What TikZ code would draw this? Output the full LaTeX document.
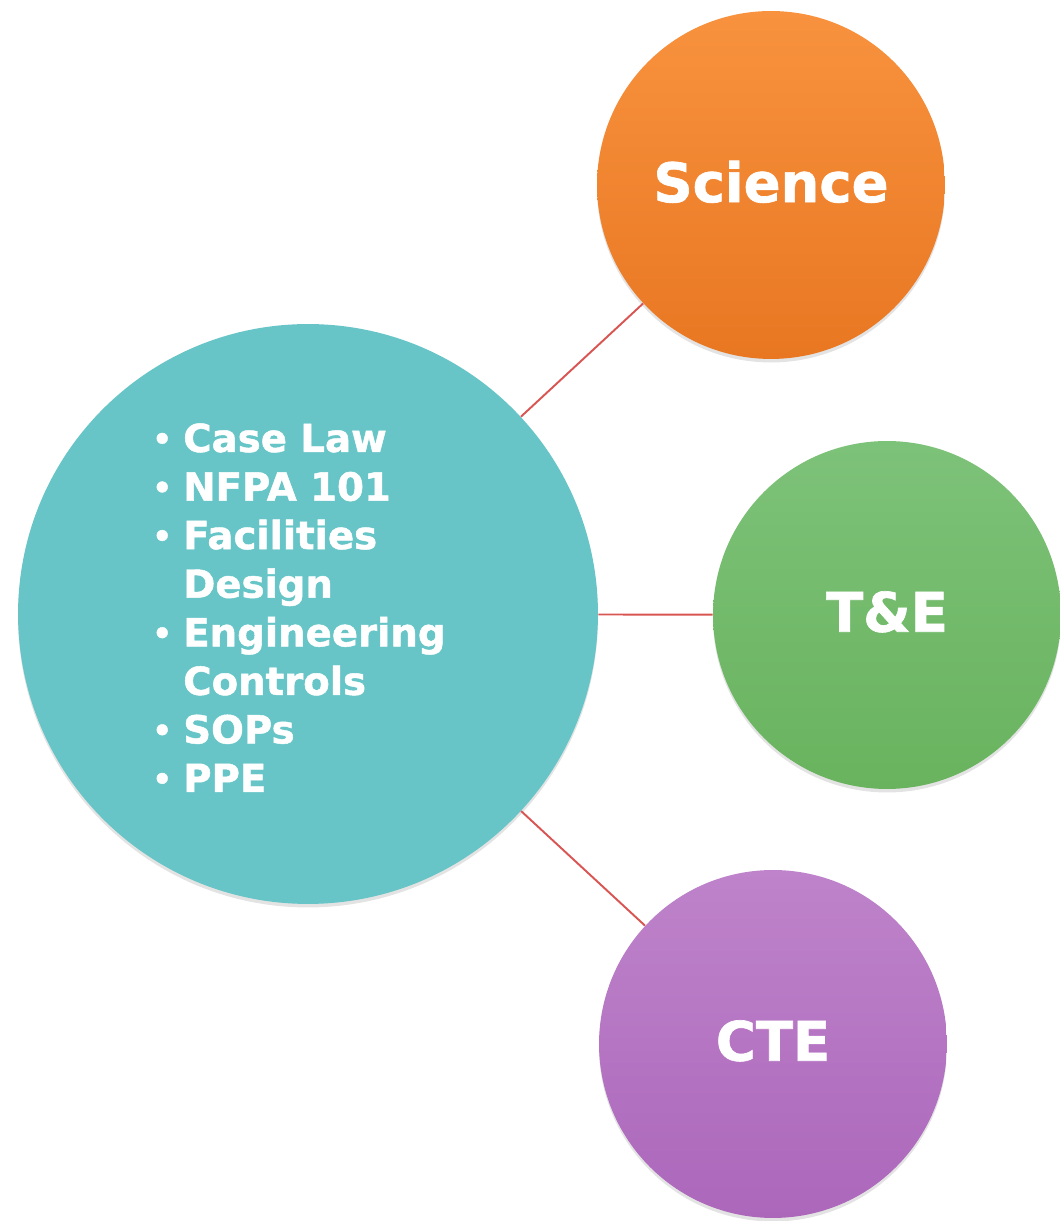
\documentclass[tikz,border=0pt]{standalone}
\usepackage{fontspec}
\setmainfont{DejaVu Sans}[BoldFeatures={FakeBold=1.2}]
\usepackage{tikz}
\usetikzlibrary{shadows}

\definecolor{hubteal}{HTML}{68C5C7}
\definecolor{sciTop}{HTML}{F8923E}
\definecolor{sciBot}{HTML}{E97722}
\definecolor{teTop}{HTML}{7DC279}
\definecolor{teBot}{HTML}{69B35E}
\definecolor{cteTop}{HTML}{BE83CA}
\definecolor{cteBot}{HTML}{AC67BB}
\definecolor{linkred}{HTML}{D95552}

\newcommand{\topicdot}{\makebox[17.6pt][l]{\raisebox{1.2pt}{\scalebox{0.8}{\textbullet}}}}

\begin{document}
\begin{tikzpicture}[x=0.02cm, y=0.02cm,
  bubble/.style={circle, minimum size=6.96cm, inner sep=0pt, text=white,
    font=\fontsize{31}{37}\selectfont\bfseries, text depth=4pt,
    drop shadow={opacity=0.22, shadow xshift=0pt, shadow yshift=-2pt}},
  topic/.style={anchor=base west, inner sep=0pt, text=white,
    font=\fontsize{22}{27}\selectfont\bfseries},
  link/.style={draw=linkred, line width=1.1pt}]
  \useasboundingbox (0,0) rectangle (1060,1221);

  %% hub
  \node [circle, minimum size=11.6cm, inner sep=0pt, fill=hubteal,
    drop shadow={opacity=0.22, shadow xshift=0pt, shadow yshift=-2pt}] (hub) at (308,607) {};
  \node [topic] (caselaw) at (152,769)   {\topicdot Case Law};
  \node [topic] (nfpa)    at (152,720.4) {\topicdot NFPA 101};
  \node [topic] (facil)   at (152,671.9) {\topicdot Facilities};
  \node [topic] (design)  at (152,623.3) {\phantom{\topicdot}Design};
  \node [topic] (engin)   at (152,574.7) {\topicdot Engineering};
  \node [topic] (contr)   at (152,526.1) {\phantom{\topicdot}Controls};
  \node [topic] (sops)    at (152,477.6) {\topicdot SOPs};
  \node [topic] (ppe)     at (152,429)   {\topicdot PPE};

  %% spokes
  \node [bubble, top color=sciTop, bottom color=sciBot] (sci) at (771,1036) {Science};
  \node [bubble, top color=teTop, bottom color=teBot] (te) at (887,606) {T\&E};
  \node [bubble, top color=cteTop, bottom color=cteBot] (cte) at (773,177) {CTE};

  %% links
  \draw [link] (hub) -- (sci);
  \draw [link] (hub) -- (te);
  \draw [link] (hub) -- (cte);

\end{tikzpicture}
\end{document}
